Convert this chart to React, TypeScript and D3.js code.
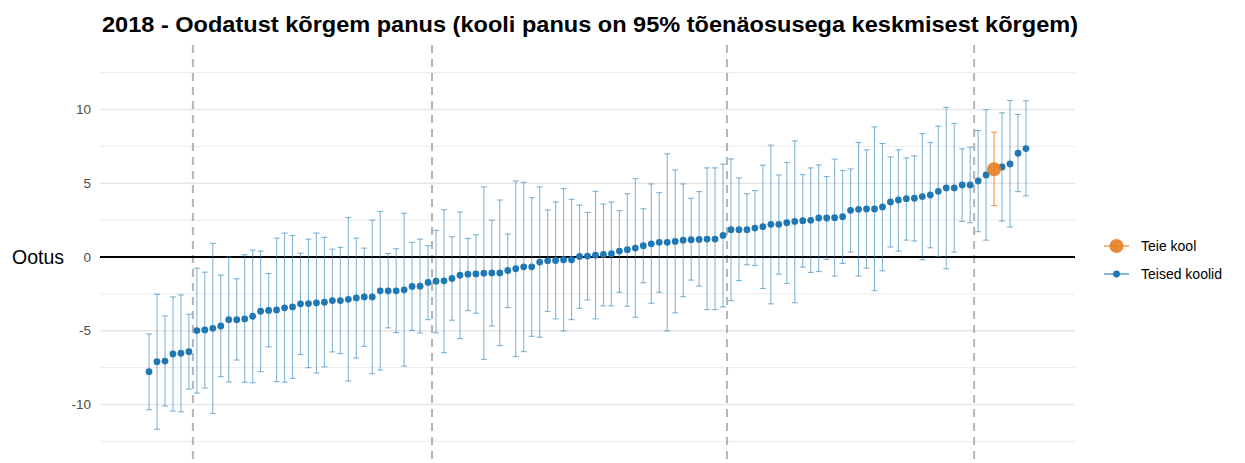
import React from "react";
import * as d3 from "d3";

const title =
  "2018 - Oodatust kõrgem panus (kooli panus on 95% tõenäosusega keskmisest kõrgem)";

// school estimates, sorted
const estimates = [
  -7.78, -7.1, -7.06, -6.58, -6.53, -6.42, -4.99, -4.95, -4.84, -4.68,
  -4.25, -4.25, -4.2, -4.02, -3.68, -3.63, -3.59, -3.45, -3.39, -3.18,
  -3.16, -3.11, -3.07, -2.96, -2.96, -2.87, -2.78, -2.71, -2.71, -2.3,
  -2.3, -2.3, -2.23, -2.0, -1.98, -1.73, -1.64, -1.62, -1.46, -1.24,
  -1.17, -1.15, -1.1, -1.08, -1.08, -0.92, -0.8, -0.67, -0.67, -0.35,
  -0.26, -0.24, -0.19, -0.19, 0.03, 0.06, 0.12, 0.17, 0.22, 0.4,
  0.49, 0.6, 0.76, 0.89, 0.99, 0.99, 1.05, 1.14, 1.17, 1.19,
  1.21, 1.21, 1.46, 1.85, 1.85, 1.85, 1.96, 2.05, 2.21, 2.21,
  2.32, 2.41, 2.46, 2.48, 2.64, 2.64, 2.66, 2.73, 3.16, 3.23,
  3.25, 3.25, 3.39, 3.73, 3.86, 3.95, 3.98, 4.09, 4.2, 4.45,
  4.68, 4.68, 4.88, 4.88, 5.15, 5.56, 5.95, 6.1, 6.31, 7.03, 7.35,
];

const lower = [
  -10.36, -11.68, -10.11, -10.45, -10.5, -8.96, -9.23, -8.89, -10.61, -8.12,
  -8.48, -6.99, -8.5, -8.53, -7.78, -6.1, -8.46, -8.49, -8.23, -6.62,
  -7.51, -7.87, -7.45, -6.44, -6.55, -8.41, -6.85, -6.06, -7.92, -7.67,
  -4.81, -5.13, -7.4, -4.99, -5.15, -4.25, -5.15, -6.49, -4.29, -5.54,
  -3.64, -3.82, -6.95, -4.68, -6.01, -3.43, -6.76, -6.42, -5.38, -5.44,
  -3.7, -4.2, -5.02, -4.25, -3.48, -2.92, -4.2, -3.32, -3.32, -2.39,
  -3.34, -4.09, -1.75, -3.14, -2.39, -5.02, -3.79, -2.69, -1.57, -1.98,
  -3.57, -3.57, -3.39, -2.96, -1.6, -0.53, -0.58, -2.14, -3.18, -1.17,
  -1.8, -3.11, -0.69, -1.05, -0.99, -0.17, -1.3, -0.44, 0.33, -1.3,
  -0.76, -2.28, -0.94, 0.67, 0.4, 1.14, 1.08, -0.19, 0.62, 0.03,
  -0.8, 0.33, 2.41, 2.32, 1.71, 1.14, 3.48, 2.43, 2.03, 4.43, 4.14,
];

const upper = [
  -5.22, -2.53, -4.0, -2.71, -2.57, -3.88, -0.76, -1.03, 0.92, -1.23,
  0.0, -1.48, 0.15, 0.46, 0.4, -1.12, 1.28, 1.62, 1.46, 0.26,
  1.21, 1.62, 1.33, 0.53, 0.65, 2.68, 1.28, 0.6, 2.5, 3.09,
  0.24, 0.56, 2.96, 0.99, 1.21, 0.76, 1.8, 3.2, 1.37, 3.05,
  1.26, 1.51, 4.75, 2.5, 3.86, 1.55, 5.15, 5.06, 4.02, 4.75,
  3.18, 3.73, 4.63, 3.91, 3.52, 3.02, 4.45, 3.59, 3.73, 3.14,
  4.29, 5.31, 3.27, 4.95, 4.36, 6.99, 5.9, 4.95, 3.98, 4.43,
  6.04, 6.04, 6.29, 6.65, 5.36, 4.29, 4.5, 6.22, 7.58, 5.56,
  6.4, 7.87, 5.58, 6.04, 6.24, 5.45, 6.63, 5.86, 5.97, 7.76,
  7.26, 8.82, 7.69, 6.78, 7.26, 6.72, 6.85, 8.37, 7.76, 8.87,
  10.14, 9.05, 7.33, 7.44, 8.57, 9.98, 8.46, 9.77, 10.61, 9.66, 10.59,
];

const ownSchoolIndex = 106; // "Teie kool"
const groupBreaks = [5, 35, 72, 103]; // last index before each dashed line
const yTicks = [-10, -5, 0, 5, 10];
const yMinor = [-12.5, -7.5, -2.5, 2.5, 7.5, 12.5];
const legendLabels = ["Teie kool", "Teised koolid"];

const W = 1245;
const H = 463;
const blue = "#1f78b4";
const orange = "#e67e22";
const font = "'Liberation Sans', Arial, sans-serif";

const App = () => {
  const left = 100;
  const right = 1075;
  const top = 45;
  const bottom = 463;

  const n = estimates.length;
  const x = d3.scaleLinear().domain([-6.15, n - 1 + 6.15]).range([left, right]);
  const y = d3.scaleLinear().domain([-13.97, 14.37]).range([bottom, top]);

  const rows = estimates.map((v, i) => ({
    i,
    v,
    lo: lower[i],
    hi: upper[i],
    own: i === ownSchoolIndex,
  }));
  const others = rows.filter((d) => !d.own);
  const own = rows.filter((d) => d.own);

  const errBar = (d, color, opacity) => (
    <g key={"e" + d.i} stroke={color} strokeOpacity={opacity} strokeWidth={1.1}>
      <line x1={x(d.i)} x2={x(d.i)} y1={y(d.lo)} y2={y(d.hi)} />
      <line x1={x(d.i) - 3} x2={x(d.i) + 3} y1={y(d.lo)} y2={y(d.lo)} />
      <line x1={x(d.i) - 3} x2={x(d.i) + 3} y1={y(d.hi)} y2={y(d.hi)} />
    </g>
  );

  return (
    <svg
      width={W}
      height={H}
      style={{ position: "absolute", left: 0, top: 0, background: "white", fontFamily: font }}
    >
      <text
        x={102}
        y={32}
        fontSize={22}
        fontWeight="bold"
        fill="#000"
        textLength={976}
        lengthAdjust="spacingAndGlyphs"
      >
        {title}
      </text>

      {/* grid */}
      {yMinor.map((t) => (
        <line key={"m" + t} x1={left} x2={right} y1={y(t)} y2={y(t)} stroke="#ebebeb" strokeWidth={1} />
      ))}
      {yTicks.map((t) => (
        <line key={"g" + t} x1={left} x2={right} y1={y(t)} y2={y(t)} stroke="#e6e6e6" strokeWidth={1.4} />
      ))}
      {yTicks.map((t) => (
        <text key={"t" + t} x={91} y={y(t)} dy="0.35em" textAnchor="end" fontSize={13.5} fill="#4d4d4d">
          {t}
        </text>
      ))}
      <text x={12} y={y(0)} dy="0.37em" fontSize={19.5} fill="#000">
        Ootus
      </text>

      {/* group separators */}
      {groupBreaks.map((b) => (
        <line
          key={"b" + b}
          x1={x(b + 0.5)}
          x2={x(b + 0.5)}
          y1={top}
          y2={bottom}
          stroke="#b3b3b3"
          strokeWidth={2}
          strokeDasharray="8,6"
        />
      ))}

      <line x1={left} x2={right} y1={y(0)} y2={y(0)} stroke="#000" strokeWidth={2} />

      {others.map((d) => errBar(d, blue, 0.55))}
      {others.map((d) => (
        <circle key={"p" + d.i} cx={x(d.i)} cy={y(d.v)} r={3.4} fill={blue} />
      ))}
      {own.map((d) => errBar(d, orange, 0.8))}
      {own.map((d) => (
        <circle key={"o" + d.i} cx={x(d.i)} cy={y(d.v)} r={7} fill={orange} fillOpacity={0.9} />
      ))}

      {/* legend */}
      <g>
        <line x1={1104} x2={1129} y1={246} y2={246} stroke={orange} strokeWidth={1.1} />
        <circle cx={1116.5} cy={246} r={7} fill={orange} fillOpacity={0.9} />
        <text x={1141} y={246} dy="0.35em" fontSize={14} fill="#000">
          {legendLabels[0]}
        </text>
        <line x1={1104} x2={1129} y1={274} y2={274} stroke={blue} strokeWidth={1.1} />
        <circle cx={1116.5} cy={274} r={3.4} fill={blue} />
        <text x={1141} y={274} dy="0.35em" fontSize={14} fill="#000">
          {legendLabels[1]}
        </text>
      </g>
    </svg>
  );
};

export default App;
